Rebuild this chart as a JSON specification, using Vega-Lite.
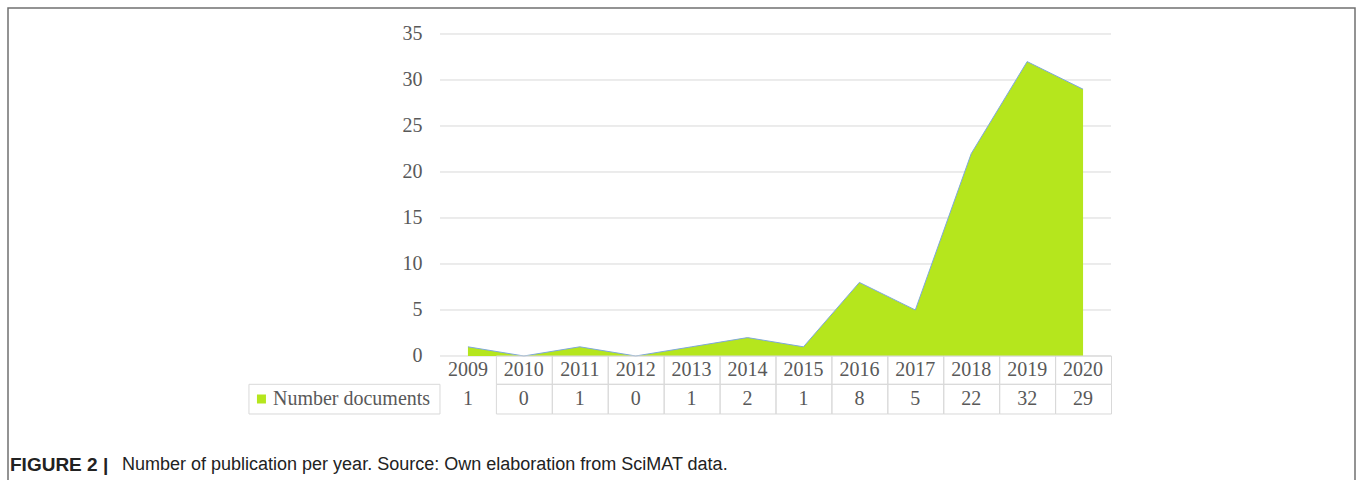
{
  "$schema": "https://vega.github.io/schema/vega-lite/v6.json",
  "width": 1347,
  "height": 490,
  "autosize": {"type": "none"},
  "padding": {"left": 8, "top": 8, "right": 5, "bottom": 0},
  "background": "white",
  "config": {"view": {"stroke": "#707070", "strokeWidth": 1.5}},
  "datasets": {
    "pubs": [
      {"year": 2009, "documents": 1},
      {"year": 2010, "documents": 0},
      {"year": 2011, "documents": 1},
      {"year": 2012, "documents": 0},
      {"year": 2013, "documents": 1},
      {"year": 2014, "documents": 2},
      {"year": 2015, "documents": 1},
      {"year": 2016, "documents": 8},
      {"year": 2017, "documents": 5},
      {"year": 2018, "documents": 22},
      {"year": 2019, "documents": 32},
      {"year": 2020, "documents": 29}
    ],
    "grid": [
      {"value": 0}, {"value": 5}, {"value": 10}, {"value": 15},
      {"value": 20}, {"value": 25}, {"value": 30}, {"value": 35}
    ],
    "series": [{"label": "Number documents"}],
    "caption": [{"figure": "FIGURE 2 |", "text": "Number of publication per year. Source: Own elaboration from SciMAT data."}]
  },
  "layer": [
    {
      "data": {"name": "grid"},
      "mark": {"type": "rule", "color": "#d9d9d9", "strokeWidth": 1},
      "encoding": {
        "x": {"datum": 2008.5, "type": "quantitative", "scale": {"domain": [2000.775, 2024.863], "nice": false, "zero": false}, "axis": null},
        "x2": {"datum": 2020.5},
        "y": {"field": "value", "type": "quantitative",
              "scale": {"domain": [-15.435, 37.826], "nice": false, "zero": false},
              "axis": {"values": [0,5,10,15,20,25,30,35], "orient": "left", "offset": -414, "labelPadding": 0, "ticks": false, "tickSize": 0, "domain": false, "grid": false, "title": null, "labelFont": "Liberation Serif", "labelFontSize": 20, "labelColor": "#595959", "labelAlign": "right", "labelBaseline": "middle", "labelOverlap": false}}
      }
    },
    {
      "data": {"name": "pubs"},
      "mark": {"type": "area", "color": "#b5e61d", "interpolate": "linear", "opacity": 1},
      "encoding": {
        "x": {"field": "year", "type": "quantitative", "axis": null},
        "y": {"field": "documents", "type": "quantitative", "axis": {"values": [0,5,10,15,20,25,30,35], "orient": "left", "offset": -414, "labelPadding": 0, "ticks": false, "tickSize": 0, "domain": false, "grid": false, "title": null, "labelFont": "Liberation Serif", "labelFontSize": 20, "labelColor": "#595959", "labelAlign": "right", "labelBaseline": "middle", "labelOverlap": false}},
        "y2": {"datum": 0}
      }
    },
    {
      "data": {"name": "pubs"},
      "mark": {"type": "line", "color": "#7fa8dc", "strokeWidth": 1, "interpolate": "linear"},
      "encoding": {
        "x": {"field": "year", "type": "quantitative", "axis": null},
        "y": {"field": "documents", "type": "quantitative", "axis": {"values": [0,5,10,15,20,25,30,35], "orient": "left", "offset": -414, "labelPadding": 0, "ticks": false, "tickSize": 0, "domain": false, "grid": false, "title": null, "labelFont": "Liberation Serif", "labelFontSize": 20, "labelColor": "#595959", "labelAlign": "right", "labelBaseline": "middle", "labelOverlap": false}}
      }
    },
    {
      "data": {"name": "pubs"},
      "mark": {"type": "rect", "fillOpacity": 0, "stroke": "#d9d9d9", "strokeWidth": 1},
      "encoding": {
        "x": {"field": "year", "type": "quantitative", "bin": {"step": 1, "anchor": 2008.5}, "axis": null},
        "y": {"datum": 0, "type": "quantitative", "axis": {"values": [0,5,10,15,20,25,30,35], "orient": "left", "offset": -414, "labelPadding": 0, "ticks": false, "tickSize": 0, "domain": false, "grid": false, "title": null, "labelFont": "Liberation Serif", "labelFontSize": 20, "labelColor": "#595959", "labelAlign": "right", "labelBaseline": "middle", "labelOverlap": false}},
        "y2": {"datum": -3.076}
      }
    },
    {
      "data": {"name": "pubs"},
      "mark": {"type": "rect", "fillOpacity": 0, "stroke": "#d9d9d9", "strokeWidth": 1},
      "encoding": {
        "x": {"field": "year", "type": "quantitative", "bin": {"step": 1, "anchor": 2008.5}, "axis": null},
        "y": {"datum": -3.076, "type": "quantitative", "axis": {"values": [0,5,10,15,20,25,30,35], "orient": "left", "offset": -414, "labelPadding": 0, "ticks": false, "tickSize": 0, "domain": false, "grid": false, "title": null, "labelFont": "Liberation Serif", "labelFontSize": 20, "labelColor": "#595959", "labelAlign": "right", "labelBaseline": "middle", "labelOverlap": false}},
        "y2": {"datum": -6.304}
      }
    },
    {
      "data": {"name": "pubs"},
      "mark": {"type": "text", "font": "Liberation Serif", "fontSize": 20, "color": "#595959", "align": "center", "baseline": "middle"},
      "encoding": {
        "x": {"field": "year", "type": "quantitative", "axis": null},
        "y": {"datum": -1.522, "type": "quantitative", "axis": {"values": [0,5,10,15,20,25,30,35], "orient": "left", "offset": -414, "labelPadding": 0, "ticks": false, "tickSize": 0, "domain": false, "grid": false, "title": null, "labelFont": "Liberation Serif", "labelFontSize": 20, "labelColor": "#595959", "labelAlign": "right", "labelBaseline": "middle", "labelOverlap": false}},
        "text": {"field": "year", "type": "nominal"}
      }
    },
    {
      "data": {"name": "pubs"},
      "mark": {"type": "text", "font": "Liberation Serif", "fontSize": 20, "color": "#595959", "align": "center", "baseline": "middle"},
      "encoding": {
        "x": {"field": "year", "type": "quantitative", "axis": null},
        "y": {"datum": -4.674, "type": "quantitative", "axis": {"values": [0,5,10,15,20,25,30,35], "orient": "left", "offset": -414, "labelPadding": 0, "ticks": false, "tickSize": 0, "domain": false, "grid": false, "title": null, "labelFont": "Liberation Serif", "labelFontSize": 20, "labelColor": "#595959", "labelAlign": "right", "labelBaseline": "middle", "labelOverlap": false}},
        "text": {"field": "documents", "type": "nominal"}
      }
    },
    {
      "data": {"name": "series"},
      "mark": {"type": "rect", "fillOpacity": 0, "stroke": "#d9d9d9", "strokeWidth": 1},
      "encoding": {
        "x": {"datum": 2005.084, "type": "quantitative", "axis": null},
        "x2": {"datum": 2008.5},
        "y": {"datum": -3.076, "type": "quantitative", "axis": {"values": [0,5,10,15,20,25,30,35], "orient": "left", "offset": -414, "labelPadding": 0, "ticks": false, "tickSize": 0, "domain": false, "grid": false, "title": null, "labelFont": "Liberation Serif", "labelFontSize": 20, "labelColor": "#595959", "labelAlign": "right", "labelBaseline": "middle", "labelOverlap": false}},
        "y2": {"datum": -6.304}
      }
    },
    {
      "data": {"name": "series"},
      "mark": {"type": "square", "filled": true, "color": "#b5e61d", "size": 81, "opacity": 1, "xOffset": 12.5},
      "encoding": {
        "x": {"datum": 2005.084, "type": "quantitative", "axis": null},
        "y": {"datum": -4.674, "type": "quantitative", "axis": {"values": [0,5,10,15,20,25,30,35], "orient": "left", "offset": -414, "labelPadding": 0, "ticks": false, "tickSize": 0, "domain": false, "grid": false, "title": null, "labelFont": "Liberation Serif", "labelFontSize": 20, "labelColor": "#595959", "labelAlign": "right", "labelBaseline": "middle", "labelOverlap": false}}
      }
    },
    {
      "data": {"name": "series"},
      "mark": {"type": "text", "font": "Liberation Serif", "fontSize": 20, "color": "#595959", "align": "left", "baseline": "middle", "dx": 24},
      "encoding": {
        "x": {"datum": 2005.084, "type": "quantitative", "axis": null},
        "y": {"datum": -4.674, "type": "quantitative", "axis": {"values": [0,5,10,15,20,25,30,35], "orient": "left", "offset": -414, "labelPadding": 0, "ticks": false, "tickSize": 0, "domain": false, "grid": false, "title": null, "labelFont": "Liberation Serif", "labelFontSize": 20, "labelColor": "#595959", "labelAlign": "right", "labelBaseline": "middle", "labelOverlap": false}},
        "text": {"field": "label"}
      }
    },
    {
      "data": {"name": "caption"},
      "mark": {"type": "text", "font": "Liberation Sans", "fontSize": 19, "fontWeight": "bold", "color": "#222222", "align": "left", "baseline": "middle", "dx": 2},
      "encoding": {
        "x": {"datum": 2000.775, "type": "quantitative", "axis": null},
        "y": {"datum": -11.848, "type": "quantitative", "axis": {"values": [0,5,10,15,20,25,30,35], "orient": "left", "offset": -414, "labelPadding": 0, "ticks": false, "tickSize": 0, "domain": false, "grid": false, "title": null, "labelFont": "Liberation Serif", "labelFontSize": 20, "labelColor": "#595959", "labelAlign": "right", "labelBaseline": "middle", "labelOverlap": false}},
        "text": {"field": "figure"}
      }
    },
    {
      "data": {"name": "caption"},
      "mark": {"type": "text", "font": "Liberation Sans", "fontSize": 18, "color": "#222222", "align": "left", "baseline": "middle", "dx": 114},
      "encoding": {
        "x": {"datum": 2000.775, "type": "quantitative", "axis": null},
        "y": {"datum": -11.848, "type": "quantitative", "axis": {"values": [0,5,10,15,20,25,30,35], "orient": "left", "offset": -414, "labelPadding": 0, "ticks": false, "tickSize": 0, "domain": false, "grid": false, "title": null, "labelFont": "Liberation Serif", "labelFontSize": 20, "labelColor": "#595959", "labelAlign": "right", "labelBaseline": "middle", "labelOverlap": false}},
        "text": {"field": "text"}
      }
    }
  ]
}
